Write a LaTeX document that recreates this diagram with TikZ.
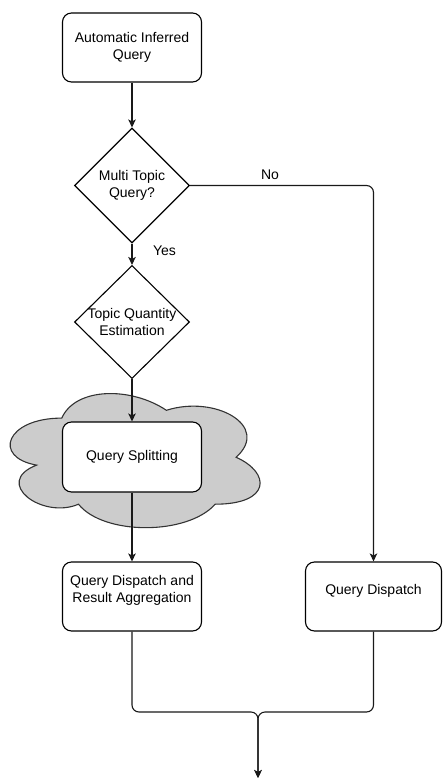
\documentclass[tikz,border=0pt]{standalone}
\usepackage{fontspec}
\setmainfont{Liberation Sans}
\usetikzlibrary{shapes.geometric,arrows.meta}
\begin{document}
\begin{tikzpicture}[x=1pt,y=-1pt,
  txt/.style={font=\fontsize{14}{16.5}\selectfont, align=center, text=black},
  box/.style={draw=black, line width=1.1pt, rounded corners=9pt, fill=white, minimum width=139pt, minimum height=69pt, inner sep=0pt},
  dia/.style={draw=black, line width=1.1pt, diamond, minimum width=115pt, minimum height=115pt, inner sep=0pt, fill=white},
  conn/.style={draw=black!90, line width=1.1pt, rounded corners=7pt},
  arr/.style={conn, -{Stealth[length=8pt,width=7.5pt,inset=2pt]}},
  cloudsty/.style={draw=black!80, fill=black!20, line width=1.1pt},
  lbl/.style={font=\fontsize{14}{16.5}\selectfont, text=black, inner sep=0pt}
]
\useasboundingbox (0,0) rectangle (442,781);

% cloud
\path[cloudsty] (61.75,418.1)
  .. controls (5.95,418.1) and (-8,457.25) .. (36.64,465.1)
  .. controls (-8,482.3) and (42.22,519.85) .. (78.49,504.2)
  .. controls (103.6,535.5) and (187.3,535.5) .. (215.2,504.2)
  .. controls (271,504.2) and (271,472.9) .. (236.1,457.25)
  .. controls (271,425.95) and (215.2,394.65) .. (166.4,410.3)
  .. controls (131.5,386.8) and (75.7,386.8) .. (61.75,418.1) -- cycle;

\node[box, txt] (top) at (132,47.5) {Automatic Inferred\\Query};
\node[dia, label={[txt]center:{Multi Topic\\Query?}}] (d1) at (132,185.5) {};
\node[dia, minimum height=113pt, label={[txt]center:{Topic Quantity\\Estimation}}] (d2) at (132,322) {};
\node[box, minimum height=70pt, txt] (split) at (132,457) {Query Splitting};
\node[box, label={[txt, yshift=6pt]center:{Query Dispatch and\\Result Aggregation}}] (agg) at (132,596.5) {};
\node[box, minimum width=136pt, label={[txt, yshift=6pt]center:{Query Dispatch}}] (disp) at (373.5,596.5) {};

\node[lbl] (no) at (270,175) {No};
\node[lbl] (yes) at (164.5,250.5) {Yes};

\coordinate (j) at (258,712);
\coordinate (end) at (258,778);

\draw[arr] (top.south) -- (d1.north);
\draw[arr] (d1.south) -- (d2.north);
\draw[arr] (d1.east) -| (disp.north);
\draw[arr] (d2.south) -- (split.north);
\draw[arr] (split.south) -- (agg.north);
\draw[arr] (agg.south) |- (j) -- (end);
\draw[arr] (disp.south) |- (j) -- (end);
\end{tikzpicture}
\end{document}
